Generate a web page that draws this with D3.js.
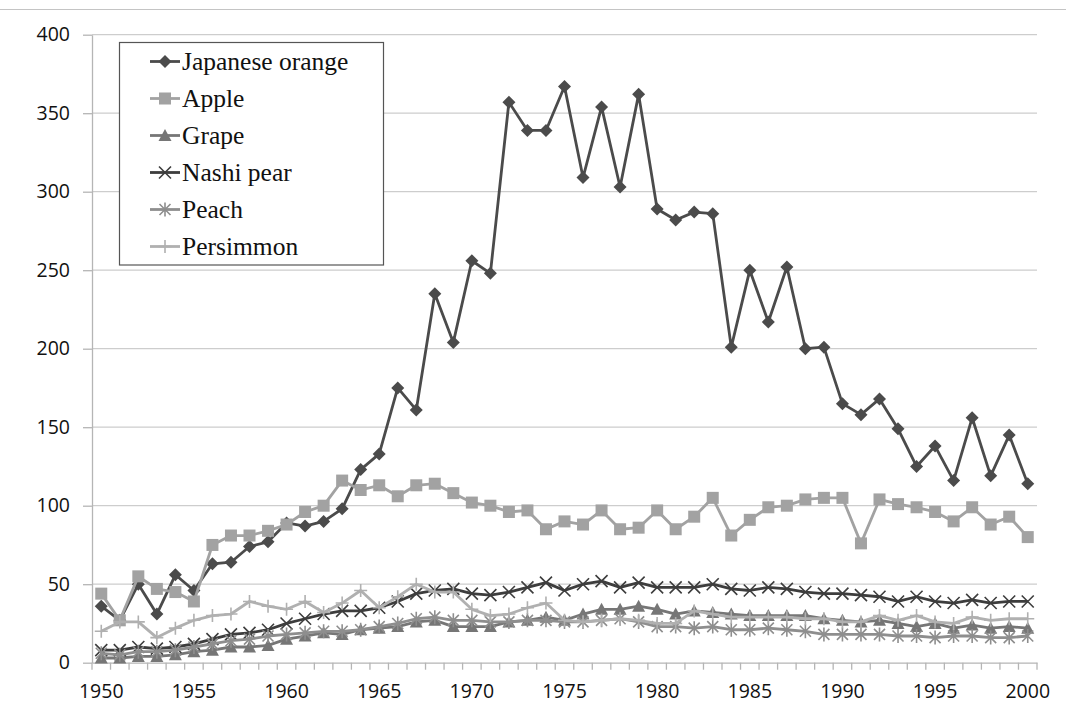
<!DOCTYPE html>
<html>
<head>
<meta charset="utf-8">
<script src="https://cdn.jsdelivr.net/npm/d3@7"></script>
<style>
  body { margin: 0; background: #fff; }
  svg { display: block; }
  .tick-label { font-family: "Open Sans", sans-serif; font-size: 19.5px; fill: #111; }
</style>
</head>
<body>
<div id="chart"></div>
<script>
// Data
const years = d3.range(1950, 2001);
const japaneseOrange = [36,27,50,31,56,46,63,64,74,77, 89,87,90,98,123,133,175,161,235,204,
  256,248,357,339,339,367,309,354,303,362, 289,282,287,286,201,250,217,252,200,201,
  165,158,168,149,125,138,116,156,119,145, 114];
const apple = [44,27,55,47,45,39,75,81,81,84, 88,96,100,116,110,113,106,113,114,108,
  102,100,96,97,85,90,88,97,85,86, 97,85,93,105,81,91,99,100,104,105,
  105,76,104,101,99,96,90,99,88,93, 80];
const grape = [3,3,4,4,5,7,8,10,10,11, 15,17,19,18,21,22,23,26,27,23,
  23,23,26,27,29,27,31,34,34,36, 34,31,33,32,31,30,30,30,30,28,
  27,26,27,25,23,25,22,24,22,23, 22];
const nashiPear = [8,8,10,9,10,12,15,18,19,21, 25,28,31,33,33,35,39,44,46,47,
  44,43,45,48,51,46,50,52,48,51, 48,48,48,50,47,46,48,47,45,44,
  44,43,42,39,42,39,38,40,38,39, 39];
const peach = [6,5,7,7,8,10,12,14,15,17, 18,19,20,20,21,23,25,28,29,27,
  27,26,26,27,27,26,26,27,28,26, 23,23,22,23,21,21,22,21,20,18,
  18,18,18,17,17,16,17,17,16,16, 17];
const persimmon = [20,26,26,16,22,27,30,31,39,36, 34,39,32,38,46,35,42,50,45,45,
  34,30,31,35,38,27,26,27,28,27, 25,25,33,31,29,29,29,29,28,28,
  26,26,30,27,30,26,25,29,27,28, 28];
const seriesNames = ["Japanese orange", "Apple", "Grape", "Nashi pear", "Peach", "Persimmon"];
const yTicks = [0, 50, 100, 150, 200, 250, 300, 350, 400];
const xLabels = [1950, 1955, 1960, 1965, 1970, 1975, 1980, 1985, 1990, 1995, 2000];

// Styling per series
const series = [
  { name: seriesNames[0], values: japaneseOrange, color: "#4b4b4b", marker: "diamond" },
  { name: seriesNames[1], values: apple,          color: "#a2a2a2", marker: "square" },
  { name: seriesNames[2], values: grape,          color: "#767676", marker: "triangle" },
  { name: seriesNames[3], values: nashiPear,      color: "#3d3d3d", marker: "cross" },
  { name: seriesNames[4], values: peach,          color: "#8e8e8e", marker: "star" },
  { name: seriesNames[5], values: persimmon,      color: "#b0b0b0", marker: "plus" }
];

const W = 1066, H = 703;
const plot = { left: 92, right: 1037, top: 34.7, bottom: 662.7 };

const svg = d3.select("#chart").append("svg")
  .attr("width", W)
  .attr("height", H);

const x = d3.scaleBand().domain(years).range([plot.left, plot.right]).padding(0);
const y = d3.scaleLinear().domain([0, 400]).range([plot.bottom, plot.top]);
const cx = d => x(d) + x.bandwidth() / 2;

// Chart border at the top
svg.append("line")
  .attr("x1", 0).attr("x2", W)
  .attr("y1", 9.5).attr("y2", 9.5)
  .attr("stroke", "#c4c4c4").attr("stroke-width", 1.2);

// Gridlines
svg.append("g")
  .selectAll("line")
  .data(yTicks.filter(d => d > 0))
  .join("line")
    .attr("x1", plot.left).attr("x2", plot.right)
    .attr("y1", d => y(d)).attr("y2", d => y(d))
    .attr("stroke", "#cdcdcd").attr("stroke-width", 1.3);

// Y axis
const yAxis = svg.append("g")
  .attr("transform", `translate(${plot.left},0)`)
  .call(d3.axisLeft(y).tickValues(yTicks).tickSizeInner(9).tickSizeOuter(0).tickPadding(13));
yAxis.select(".domain").attr("stroke", "#b5b5b5").attr("stroke-width", 1.3);
yAxis.selectAll(".tick line").attr("stroke", "#b5b5b5").attr("stroke-width", 1.3);
yAxis.selectAll(".tick text").attr("class", "tick-label");

// X axis with ticks between categories
const xAxis = svg.append("g")
  .attr("transform", `translate(0,${plot.bottom})`)
  .call(d3.axisBottom(x).tickValues(xLabels).tickSize(0).tickPadding(21.5));
xAxis.select(".domain").attr("stroke", "#b5b5b5").attr("stroke-width", 1.3);
xAxis.selectAll(".tick text").attr("class", "tick-label");

svg.append("g")
  .selectAll("line")
  .data(years.concat([null]))
  .join("line")
    .attr("x1", d => d === null ? plot.right : x(d))
    .attr("x2", d => d === null ? plot.right : x(d))
    .attr("y1", plot.bottom).attr("y2", plot.bottom + 7)
    .attr("stroke", "#b5b5b5").attr("stroke-width", 1.3);

// Marker drawing
function addMarker(g, type, color) {
  if (type === "diamond") {
    g.append("path").attr("d", "M0,-6.5L6.5,0L0,6.5L-6.5,0Z").attr("fill", color);
  } else if (type === "square") {
    g.append("rect").attr("x", -6).attr("y", -6).attr("width", 12).attr("height", 12).attr("fill", color);
  } else if (type === "triangle") {
    g.append("path").attr("d", "M0,-6.5L6.5,5.5L-6.5,5.5Z").attr("fill", color);
  } else if (type === "cross") {
    g.append("path").attr("d", "M-6,-6L6,6M-6,6L6,-6")
      .attr("stroke", color).attr("stroke-width", 1.6).attr("fill", "none");
  } else if (type === "star") {
    g.append("path").attr("d", "M-5.5,-5.5L5.5,5.5M-5.5,5.5L5.5,-5.5M0,-7L0,7")
      .attr("stroke", color).attr("stroke-width", 1.6).attr("fill", "none");
  } else if (type === "plus") {
    g.append("path").attr("d", "M-6.5,0L6.5,0M0,-6.5L0,6.5")
      .attr("stroke", color).attr("stroke-width", 1.6).attr("fill", "none");
  }
}

const line = d3.line()
  .x((d, i) => cx(years[i]))
  .y(d => y(d));

series.forEach(s => {
  const g = svg.append("g");
  g.append("path")
    .datum(s.values)
    .attr("fill", "none")
    .attr("stroke", s.color)
    .attr("stroke-width", 2.8)
    .attr("stroke-linejoin", "round")
    .attr("d", line);

  g.selectAll(".marker")
    .data(s.values)
    .join("g")
      .attr("class", "marker")
      .attr("transform", (d, i) => `translate(${cx(years[i])},${y(d)})`)
      .each(function() { addMarker(d3.select(this), s.marker, s.color); });
});

// Legend box
const legend = svg.append("g").attr("class", "legend");
legend.append("rect")
  .attr("x", 119.5).attr("y", 42.5)
  .attr("width", 264).attr("height", 222.5)
  .attr("fill", "#fff")
  .attr("stroke", "#555").attr("stroke-width", 1.2);

series.forEach((s, i) => {
  const ly = 61.5 + i * 37;
  const item = legend.append("g");
  item.append("line")
    .attr("x1", 150).attr("x2", 180)
    .attr("y1", ly).attr("y2", ly)
    .attr("stroke", s.color).attr("stroke-width", 2.8);
  addMarker(item.append("g").attr("transform", `translate(165,${ly})`), s.marker, s.color);
  item.append("text")
    .attr("x", 182)
    .attr("y", ly + 8.5)
    .style("font-family", "'Liberation Serif', 'DejaVu Serif', serif")
    .style("font-size", "25.5px")
    .style("fill", "#111")
    .text(s.name);
});
</script>
</body>
</html>
